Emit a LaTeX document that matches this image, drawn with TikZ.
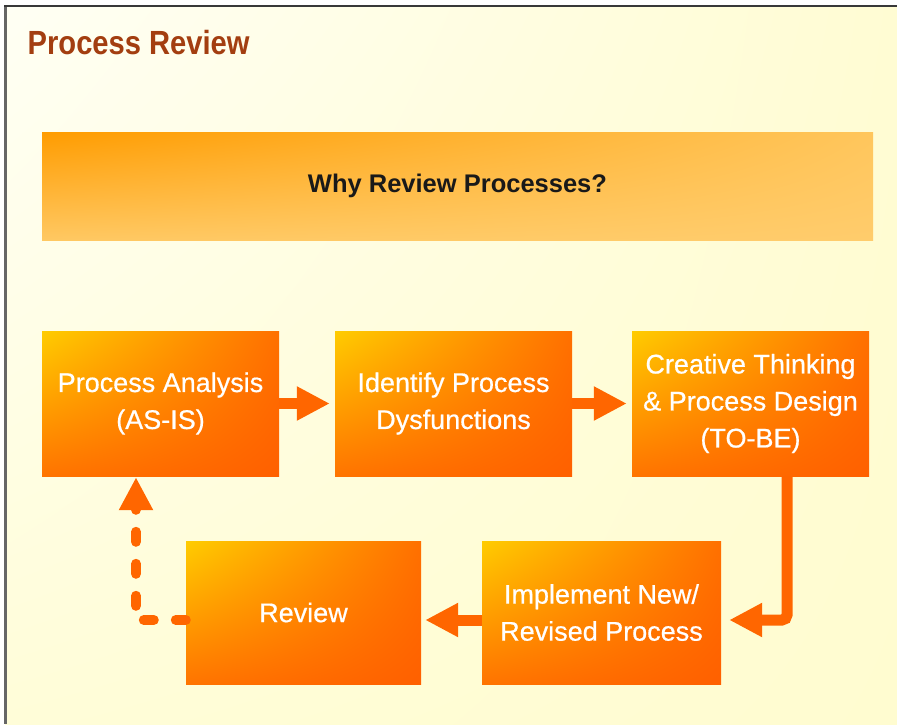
\documentclass[tikz,border=0pt]{standalone}
\usepackage{fontspec}
\setmainfont{Liberation Sans}
\newfontfamily\titlefont[FakeStretch=0.87]{Liberation Sans}
\newfontfamily\boxfont[FakeBold=0.6]{Liberation Sans}
\usetikzlibrary{arrows.meta,shadings}
\definecolor{bgA}{HTML}{FFFFF4}
\definecolor{bgB}{HTML}{FFFCD3}
\definecolor{bgC}{HTML}{FFFDD8}
\definecolor{bgD}{HTML}{FFFCD0}
\definecolor{titlecol}{HTML}{A33E10}
\definecolor{arrowcol}{HTML}{FF6600}
\definecolor{boxUL}{HTML}{FFCC00}
\definecolor{boxUR}{HTML}{FF7000}
\definecolor{boxLL}{HTML}{FF7400}
\definecolor{boxLR}{HTML}{FF6000}
\definecolor{banUL}{HTML}{FF9C00}
\definecolor{banUR}{HTML}{FFC65C}
\definecolor{banLL}{HTML}{FFC862}
\definecolor{banLR}{HTML}{FFCC6C}
\tikzset{
  stepbox/.style={rectangle, inner sep=0pt, minimum width=237pt, minimum height=145pt,
    upper left=boxUL, upper right=boxUR, lower left=boxLL, lower right=boxLR,
    text=white, align=center, font=\boxfont\fontsize{27}{37}\selectfont},
  flowarrow/.style={draw=arrowcol, line width=11pt, -{Triangle[length=33pt,width=32pt]}},
}
\begin{document}
\begin{tikzpicture}[x=1pt,y=-1pt]
\useasboundingbox (0,0) rectangle (897,724);
\fill[white] (0,0) rectangle (897,724);
\shade[upper left=bgA, upper right=bgB, lower left=bgC, lower right=bgD] (5,6) rectangle (897,724);
\draw[draw=black!60, line width=3pt] (5.5,6) -- (5.5,724);
\draw[draw=black!78, line width=2pt] (4,6) -- (897,6);
\node[anchor=base west, inner sep=0pt, text=titlecol, font=\titlefont\bfseries\fontsize{33.5}{40}\selectfont] (title) at (27.5,54) {Process Review};
\node[rectangle, inner sep=0pt, minimum width=831pt, minimum height=108pt,
  upper left=banUL, upper right=banUR, lower left=banLL, lower right=banLR,
  font=\bfseries\fontsize{25.5}{30}\selectfont, text=black!90] (banner) at (457.5,186) {Why Review Processes?};
\node[stepbox] (b1) at (160.5,403.5) {Process Analysis\\(AS-IS)};
\node[stepbox] (b2) at (453.5,403.5) {Identify Process\\Dysfunctions};
\node[stepbox] (b3) at (750.5,403.5) {Creative Thinking\\\& Process Design\\(TO-BE)};
\node[stepbox, minimum width=235pt, minimum height=143pt] (b4) at (303.5,612.5) {Review};
\node[stepbox, minimum width=239pt, minimum height=143pt] (b5) at (601.5,612.5) {Implement New/\\Revised Process};
\draw[flowarrow, shorten >=5pt] (b1.east) -- (b2.west);
\draw[flowarrow, shorten >=5pt] (b2.east) -- (b3.west);
\draw[flowarrow, shorten >=8pt, rounded corners=5pt] ([xshift=36.5pt]b3.south) |- ([yshift=-7.5pt]b5.east);
\draw[flowarrow, shorten >=4pt] ([yshift=-7.5pt]b5.west) -- ([yshift=-7.5pt]b4.east);
\draw[flowarrow, line width=10pt, line cap=round, dash pattern=on 10pt off 22pt, shorten >=1pt] ([yshift=-7.5pt]b4.west) -| ([xshift=-24.5pt]b1.south);
\end{tikzpicture}
\end{document}
